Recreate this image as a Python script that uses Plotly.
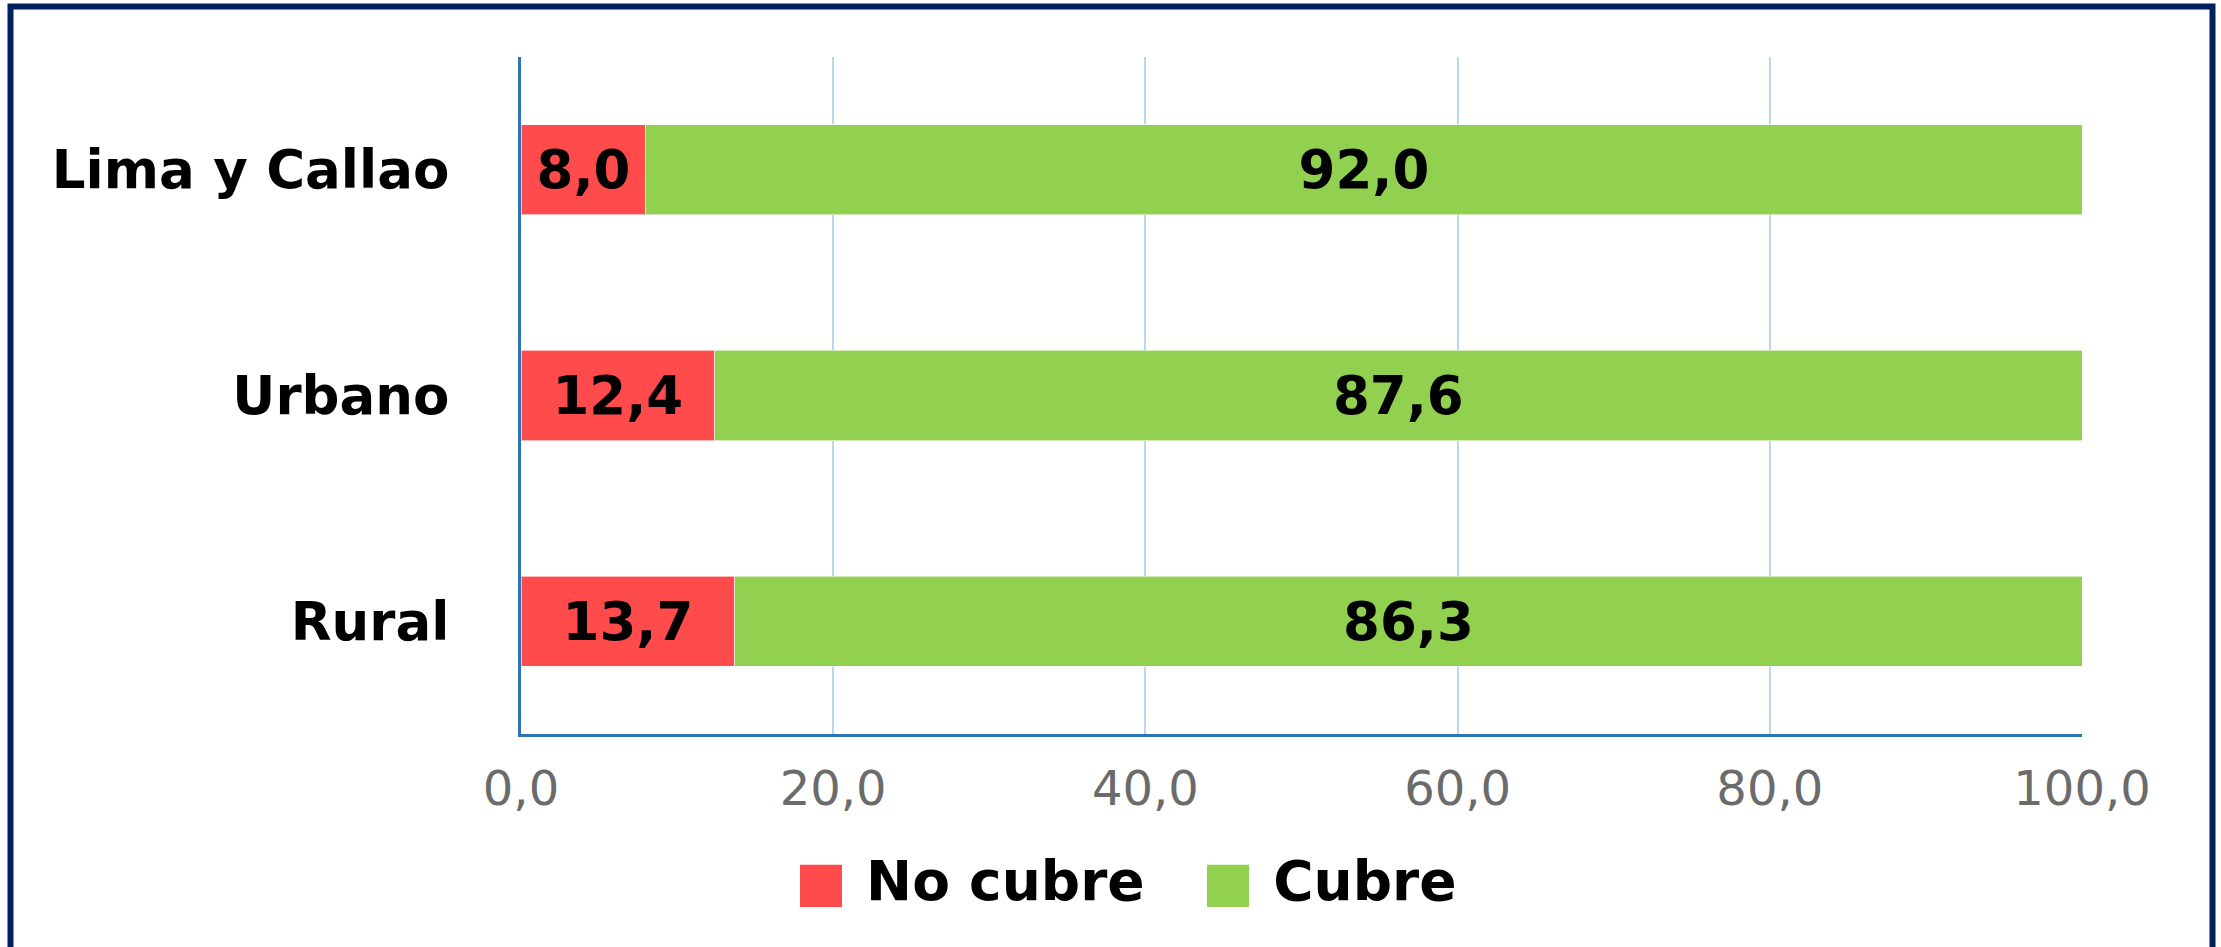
import plotly.graph_objects as go

categories = ["Lima y Callao", "Urbano", "Rural"]
no_cubre = [8.0, 12.4, 13.7]
cubre = [92.0, 87.6, 86.3]
series_names = ["No cubre", "Cubre"]
tick_vals = [0, 20, 40, 60, 80, 100]

RED = "#FF4B4B"
GREEN = "#92D050"
W, H = 2221, 947
L, R, T, B = 521, 139, 57, 213
PW, PH = W - L - R, H - T - B

def fmt(v):
    return f"{v:.1f}".replace(".", ",")

fig = go.Figure()
for name, vals, col in [(series_names[0], no_cubre, RED), (series_names[1], cubre, GREEN)]:
    fig.add_trace(go.Bar(
        y=categories, x=vals, name=name, orientation="h",
        marker=dict(color=col, line=dict(color="rgba(255,255,255,0.6)", width=1)),
        text=[fmt(v) for v in vals], textposition="inside", insidetextanchor="middle",
        textangle=0, constraintext="none",
        textfont=dict(family="DejaVu Sans", size=53, color="black", weight="bold"),
        showlegend=False,
    ))

fig.update_layout(
    width=W, height=H, barmode="stack", bargap=0.6,
    margin=dict(l=L, r=R, t=T, b=B, pad=0),
    paper_bgcolor="white", plot_bgcolor="white",
    separators=",.",
    xaxis=dict(range=[0, 100], tickvals=tick_vals, tickformat=".1f",
               showgrid=True, gridcolor="#BDD7EE", gridwidth=2,
               showline=True, linecolor="#2E75B6", linewidth=3,
               zeroline=False, ticks="", ticklabelstandoff=10,
               tickfont=dict(family="DejaVu Sans", size=48, color="#6B6B6B")),
    yaxis=dict(categoryorder="array", categoryarray=categories, autorange="reversed",
               showline=True, linecolor="#2E75B6", linewidth=3, showgrid=False,
               ticks="", ticklabelstandoff=58,
               tickfont=dict(family="DejaVu Sans", size=53, color="black", weight="bold")),
)

# chart frame
def px_x(p):
    return (p - L) / PW

def px_y(p):
    return (H - B - p) / PH

fig.add_shape(type="rect", xref="paper", yref="paper",
              x0=px_x(10.5), x1=px_x(2212.5), y0=px_y(990), y1=px_y(6.5),
              line=dict(color="#002060", width=6), fillcolor="rgba(0,0,0,0)", layer="above")

legend_text = (f"<span style='color:{RED}'>■</span> {series_names[0]}&nbsp;&nbsp;&nbsp;"
               f"<span style='color:{GREEN}'>■</span> {series_names[1]}")
fig.add_annotation(xref="paper", yref="paper", x=px_x(1126), y=px_y(881),
                   xanchor="center", yanchor="middle", showarrow=False,
                   text=legend_text,
                   font=dict(family="DejaVu Sans", size=55, color="black", weight="bold"))

fig.write_html("out.html", config={"displayModeBar": False},
               post_script="document.body.style.margin='0';document.body.style.overflow='hidden';")
